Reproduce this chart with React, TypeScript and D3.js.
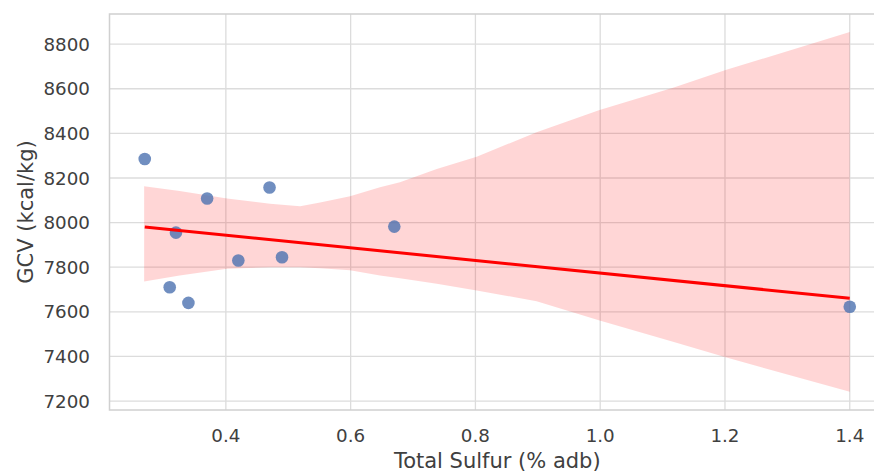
import React from "react";
import * as d3 from "d3";

const sulfur = [0.27, 0.31, 0.32, 0.34, 0.37, 0.42, 0.47, 0.49, 0.67, 1.40];
const gcv = [8285, 7710, 7955, 7640, 8108, 7830, 8157, 7845, 7982, 7623];

const bandX = [0.269, 0.326, 0.402, 0.471, 0.519, 0.551, 0.599, 0.647, 0.679, 0.738, 0.802, 0.898, 0.999, 1.118, 1.201, 1.4];
const bandUpper = [8163, 8142, 8108, 8085, 8073, 8090, 8118, 8158, 8181, 8240, 8295, 8405, 8505, 8605, 8684, 8854];
const bandLower = [7736, 7763, 7793, 7800, 7800, 7795, 7786, 7763, 7750, 7726, 7696, 7648, 7561, 7465, 7396, 7242];

const xTicks = [0.4, 0.6, 0.8, 1.0, 1.2, 1.4];
const yTicks = [7200, 7400, 7600, 7800, 8000, 8200, 8400, 8600, 8800];

const xLabel = "Total Sulfur (% adb)";
const yLabel = "GCV (kcal/kg)";

const W = 874;
const H = 472;
const left = 109.5;
const right = 885;
const top = 14;
const bottom = 410;

export default function App() {
  const x = d3.scaleLinear().domain([0.2135, 1.4565]).range([left, right]);
  const y = d3.scaleLinear().domain([7160, 8935]).range([bottom, top]);

  const mx = d3.mean(sulfur) as number;
  const my = d3.mean(gcv) as number;
  let sxy = 0;
  let sxx = 0;
  sulfur.forEach((v, i) => {
    sxy += (v - mx) * (gcv[i] - my);
    sxx += (v - mx) * (v - mx);
  });
  const slope = sxy / sxx;
  const icpt = my - slope * mx;
  const xMin = d3.min(sulfur) as number;
  const xMax = d3.max(sulfur) as number;
  const fit = [xMin, xMax].map((v) => [v, icpt + slope * v] as [number, number]);

  const area = d3
    .area<number>()
    .x((_, i) => x(bandX[i]))
    .y0((_, i) => y(bandLower[i]))
    .y1((_, i) => y(bandUpper[i]));
  const line = d3
    .line<[number, number]>()
    .x((d) => x(d[0]))
    .y((d) => y(d[1]));

  const font = "DejaVu Sans, sans-serif";
  const gridColor = "#dcdcdc";
  const textColor = "#404040";

  return (
    <svg
      width={W}
      height={H}
      style={{ position: "absolute", left: 0, top: 0, background: "#fff" }}
      fontFamily={font}
    >
      <defs>
        <clipPath id="plotclip">
          <rect x={left} y={top} width={right - left} height={bottom - top} />
        </clipPath>
      </defs>
      {xTicks.map((t) => (
        <line key={"gx" + t} x1={x(t)} x2={x(t)} y1={top} y2={bottom} stroke={gridColor} strokeWidth={1.3} />
      ))}
      {yTicks.map((t) => (
        <line key={"gy" + t} x1={left} x2={right} y1={y(t)} y2={y(t)} stroke={gridColor} strokeWidth={1.3} />
      ))}
      <g clipPath="url(#plotclip)">
        <path d={area(bandX) || ""} fill="#ff0000" fillOpacity={0.16} />
        {sulfur.map((v, i) => (
          <circle key={i} cx={x(v)} cy={y(gcv[i])} r={6.3} fill="#4c72b0" fillOpacity={0.8} />
        ))}
        <path d={line(fit) || ""} stroke="#ff0000" strokeWidth={3} fill="none" />
      </g>
      <rect x={left} y={top} width={right - left} height={bottom - top} fill="none" stroke="#d0d0d0" strokeWidth={1.5} />
      {xTicks.map((t) => (
        <text key={"tx" + t} x={x(t)} y={442} textAnchor="middle" fontSize={18.3} fill={textColor}>
          {d3.format(".1f")(t)}
        </text>
      ))}
      {yTicks.map((t) => (
        <text key={"ty" + t} x={90} y={y(t)} dy="0.36em" textAnchor="end" fontSize={18.3} fill={textColor}>
          {t}
        </text>
      ))}
      <text x={(left + right) / 2} y={468} textAnchor="middle" fontSize={21} fill={textColor}>
        {xLabel}
      </text>
      <text
        transform={`translate(33, ${(top + bottom) / 2}) rotate(-90)`}
        textAnchor="middle"
        fontSize={21}
        fill={textColor}
      >
        {yLabel}
      </text>
    </svg>
  );
}
